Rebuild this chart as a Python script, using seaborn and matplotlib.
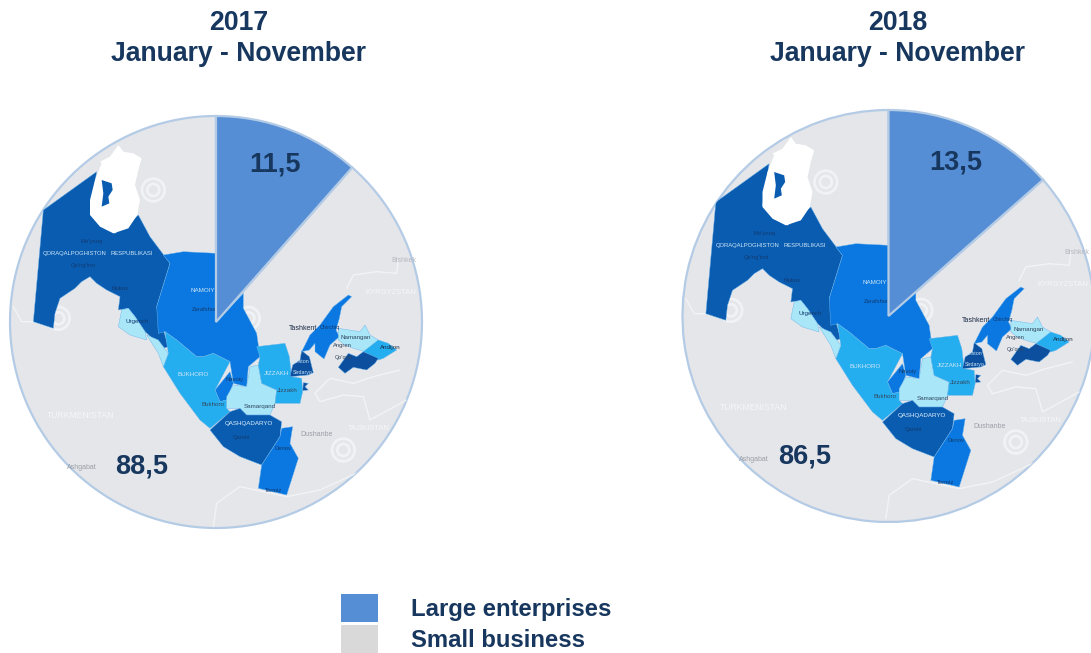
import matplotlib
matplotlib.use("Agg")
import matplotlib.pyplot as plt
import seaborn as sns
from matplotlib.patches import Circle, Patch, Polygon

# ==========================================
# Data
# ==========================================
years = ["2017", "2018"]
period = "January - November"
large_share = [11.5, 13.5]
small_share = [88.5, 86.5]
legend_labels = ["Large enterprises", "Small business"]

W, H = 1091, 653
NAVY = "#17375e"
BLUE = "#558ed5"
GREY = "#e5e6ea"
LEGEND_GREY = "#d9d9d9"
EDGE = "#b4cbe6"

sns.set_theme(style="white")
plt.rcParams['font.family'] = ['Liberation Sans', 'DejaVu Sans']

# map colours
pal = {"dark": "#0a5cb0", "mid": "#0a78e0", "sky": "#25aeef", "pale": "#a8e6f8", "deep": "#0b4f9e"}

regions = [
    ("dark", [(130,330),(290,215),(270,340),(300,375),(345,400),(415,345),(450,410),(510,490),(470,620),(505,740),(490,745),
              (435,695),(405,650),(385,625),(355,630),(360,590),(320,570),(290,550),(270,530),(245,545),(225,565),(180,595),(165,640),(160,685),(100,665)]),
    ("mid", [(490,465),(550,455),(650,460),(650,665),(730,580),(730,625),(770,700),(780,770),(745,800),(740,860),
             (700,850),(690,785),(640,760),(610,770),(590,770),(530,720),(495,695),(475,700),(470,620),(510,490)]),
    ("mid", [(645,870),(690,815),(700,850),(680,900),(660,905)]),
    ("sky", [(495,695),(530,720),(590,770),(610,770),(640,760),(690,785),(645,870),(660,905),(680,900),(680,925),
             (690,935),(630,985),(600,960),(540,880),(490,800),(505,760)]),
    ("pale", [(365,630),(385,625),(405,650),(435,695),(440,720),(390,705),(355,680)]),
    ("pale", [(440,705),(475,720),(505,760),(490,800),(475,760)]),
    ("pale", [(750,800),(775,795),(785,850),(830,870),(825,910),(810,945),(740,945),(720,925),(680,925),(680,890),(700,855),(740,860)]),
    ("sky", [(770,740),(855,730),(868,770),(875,830),(905,835),(908,875),(900,910),(825,910),(830,870),(785,850),(775,795),(780,770)]),
    ("dark", [(630,990),(690,935),(720,925),(740,945),(810,945),(845,965),(840,1010),(785,1095),(720,1070),(670,1040)]),
    ("mid", [(845,985),(878,980),(870,1030),(895,1075),(860,1185),(775,1165),(785,1095),(840,1010)]),
    ("mid", [(1045,585),(1055,590),(1025,620),(1018,655),(1008,690),(1018,710),(990,735),(972,777),(945,755),(945,730),(928,750),(905,755),(930,705),(960,675),(1000,620)]),
    ("deep", [(905,752),(928,770),(940,818),(925,825),(870,830),(878,795),(900,780)]),
    ("deep", [(910,848),(925,850),(915,860),(925,870),(908,872)]),
    ("pale", [(1015,685),(1080,695),(1095,675),(1110,705),(1135,720),(1095,755),(1060,745),(1035,735),(1015,720)]),
    ("sky", [(1090,755),(1135,720),(1165,730),(1190,750),(1150,775),(1135,780)]),
    ("deep", [(1015,802),(1045,760),(1070,770),(1090,755),(1135,775),(1125,790),(1100,810),(1060,802),(1035,820)]),
]
aral = [(300,185),(330,170),(355,135),(370,155),(400,160),(425,175),(415,210),(405,255),(420,300),(412,345),(385,385),(340,400),(300,380),(270,345),(270,300),(285,240),(305,190)]
aral_water = [(305,240),(335,250),(338,270),(325,290),(328,310),(305,320),(310,280)]
borders = [
    [(1040,565),(1060,525),(1130,515),(1190,520),(1195,480)],
    [(945,880),(990,835),(1060,850),(1120,830),(1200,810)],
    [(945,880),(960,905),(1030,885),(1090,890),(1110,960),(1220,900)],
    [(640,1280),(650,1210),(720,1160),(860,1190),(960,1170),(1090,1110)],
    [(40,620),(65,665),(100,665)],
]
watermarks = [(175, 655), (460, 270), (745, 655), (1030, 1050)]
map_labels = [
    ("QORAQALPOGHISTON", 224, 461, "#cfe6f7", 4.2), ("RESPUBLIKASI", 396, 461, "#cfe6f7", 4.2),
    ("NAMOIY", 608, 570, "#cfe6f7", 4.5), ("BUKHORO", 578, 825, "#cfe6f7", 4.5),
    ("JIZZAKH", 830, 820, "#cfe6f7", 4.5), ("QASHQADARYO", 748, 970, "#e0f0fb", 4.5),
    ("TURKMENISTAN", 242, 946, "#f5f6f8", 6.2), ("KYRGYZSTAN", 1172, 578, "#f5f6f8", 5.5),
    ("TAJIKISTAN", 1105, 984, "#f5f6f8", 5.5), ("Tashkent", 910, 685, "#1a2a44", 5),
    ("Namangan", 1068, 712, "#33475f", 4.5), ("Samarqand", 780, 920, "#33475f", 4.5),
    ("Bukhoro", 638, 912, "#33475f", 4.5), ("Jizzakh", 862, 870, "#33475f", 4.5),
    ("Nukus", 360, 566, "#123a70", 4.5), ("Urgench", 412, 665, "#123a70", 4.5),
    ("Dushanbe", 950, 1005, "#9a9ea6", 5), ("Bishkek", 1212, 480, "#b5b8be", 5),
    ("Ashgabat", 245, 1102, "#9a9ea6", 5), ("Andijon", 1172, 744, "#1a2a44", 4.5),
    ("Mo'ynoq", 275, 424, "#123a70", 4.2), ("Qo'ng'irot", 250, 497, "#123a70", 4.2),
    ("Zarafshon", 615, 628, "#123a70", 4.2), ("Navoiy", 705, 838, "#123a70", 4.2),
    ("Qarshi", 723, 1012, "#123a70", 4.2), ("Denov", 850, 1047, "#123a70", 4.2),
    ("Termiz", 820, 1172, "#123a70", 4.2), ("Chirchiq", 990, 682, "#123a70", 4),
    ("Angren", 1028, 738, "#33475f", 4.2), ("Qo'qon", 1030, 771, "#33475f", 4),
    ("Guliston", 900, 785, "#cfe6f7", 3.8), ("Sirdaryo", 908, 817, "#cfe6f7", 3.8),
]

fig = plt.figure(figsize=(W / 100, H / 100), dpi=100)
ax = fig.add_axes([0, 0, 1, 1])


def draw_panel(cx, cy, r, year, large, small, dx, dy, large_xy, small_xy, title_x):
    wedges, _ = ax.pie(
        [large, small], colors=[BLUE, GREY], center=(cx, H - cy), radius=r,
        startangle=90, counterclock=False, frame=True,
        wedgeprops={"edgecolor": EDGE, "linewidth": 1.6},
    )
    wedges[0].set_zorder(5)
    wedges[1].set_zorder(1)
    circle = wedges[1]

    def to_xy(p):
        return (cx + dx + (p[0] - 648) / 3, H - (cy + dy + (p[1] - 666) / 3))

    for line in borders:
        pts = [to_xy(p) for p in line]
        ln, = ax.plot([p[0] for p in pts], [p[1] for p in pts], color="#f2f3f5", lw=1.0, zorder=2)
        ln.set_clip_path(circle)
    # spiral watermarks of the background map
    for p in watermarks:
        for rad, lw in [(17, 2.0), (9, 2.0)]:
            ring = Circle(to_xy(p), rad / 1.5, fill=False, edgecolor="#f0f2f5", linewidth=lw, zorder=2)
            ax.add_patch(ring)
            ring.set_clip_path(circle)
    for kind, outline in regions:
        poly = Polygon([to_xy(p) for p in outline], closed=True, facecolor=pal[kind],
                       edgecolor="#6db4ea", linewidth=0.3, zorder=3)
        ax.add_patch(poly)
        poly.set_clip_path(circle)
    ax.add_patch(Polygon([to_xy(p) for p in aral], closed=True, facecolor="white", edgecolor="none", zorder=3.5))
    ax.add_patch(Polygon([to_xy(p) for p in aral_water], closed=True, facecolor=pal["dark"], edgecolor="none", zorder=3.6))
    for txt, px, py, col, size in map_labels:
        x, y = to_xy((px, py))
        t = ax.text(x, y, txt, color=col, fontsize=size, ha="center", va="center", zorder=4)
        t.set_clip_path(circle)

    for val, (x, y) in zip([large, small], [large_xy, small_xy]):
        ax.text(x, H - y, f"{val:.1f}".replace(".", ","), color=NAVY, fontsize=19.5, fontweight="bold",
                ha="center", va="center", zorder=6)
    ax.text(title_x, H - 23, year, color=NAVY, fontsize=19.2, fontweight="bold", ha="center", va="center")
    ax.text(title_x, H - 54, period, color=NAVY, fontsize=19.2, fontweight="bold", ha="center", va="center")


draw_panel(216, 322, 206, years[0], large_share[0], small_share[0], 0, 0, (275, 164), (142, 467), 238.5)
draw_panel(888.5, 316, 206, years[1], large_share[1], small_share[1], 0, -2, (956, 162), (805, 456), 898)

ax.set_xlim(0, W)
ax.set_ylim(0, H)
ax.set_aspect("equal")
ax.axis("off")

handles = [Patch(facecolor=BLUE, edgecolor="none"), Patch(facecolor=LEGEND_GREY, edgecolor="none")]
ax.legend(handles, legend_labels, loc="lower left", bbox_to_anchor=(341 / W, 0), bbox_transform=fig.transFigure,
          frameon=False, handlelength=1.55, handleheight=1.43, handletextpad=1.4,
          labelspacing=0.12, borderpad=0, borderaxespad=0, labelcolor=NAVY,
          prop={"weight": "bold", "size": 17.2})

fig.savefig("out.png", dpi=100)
